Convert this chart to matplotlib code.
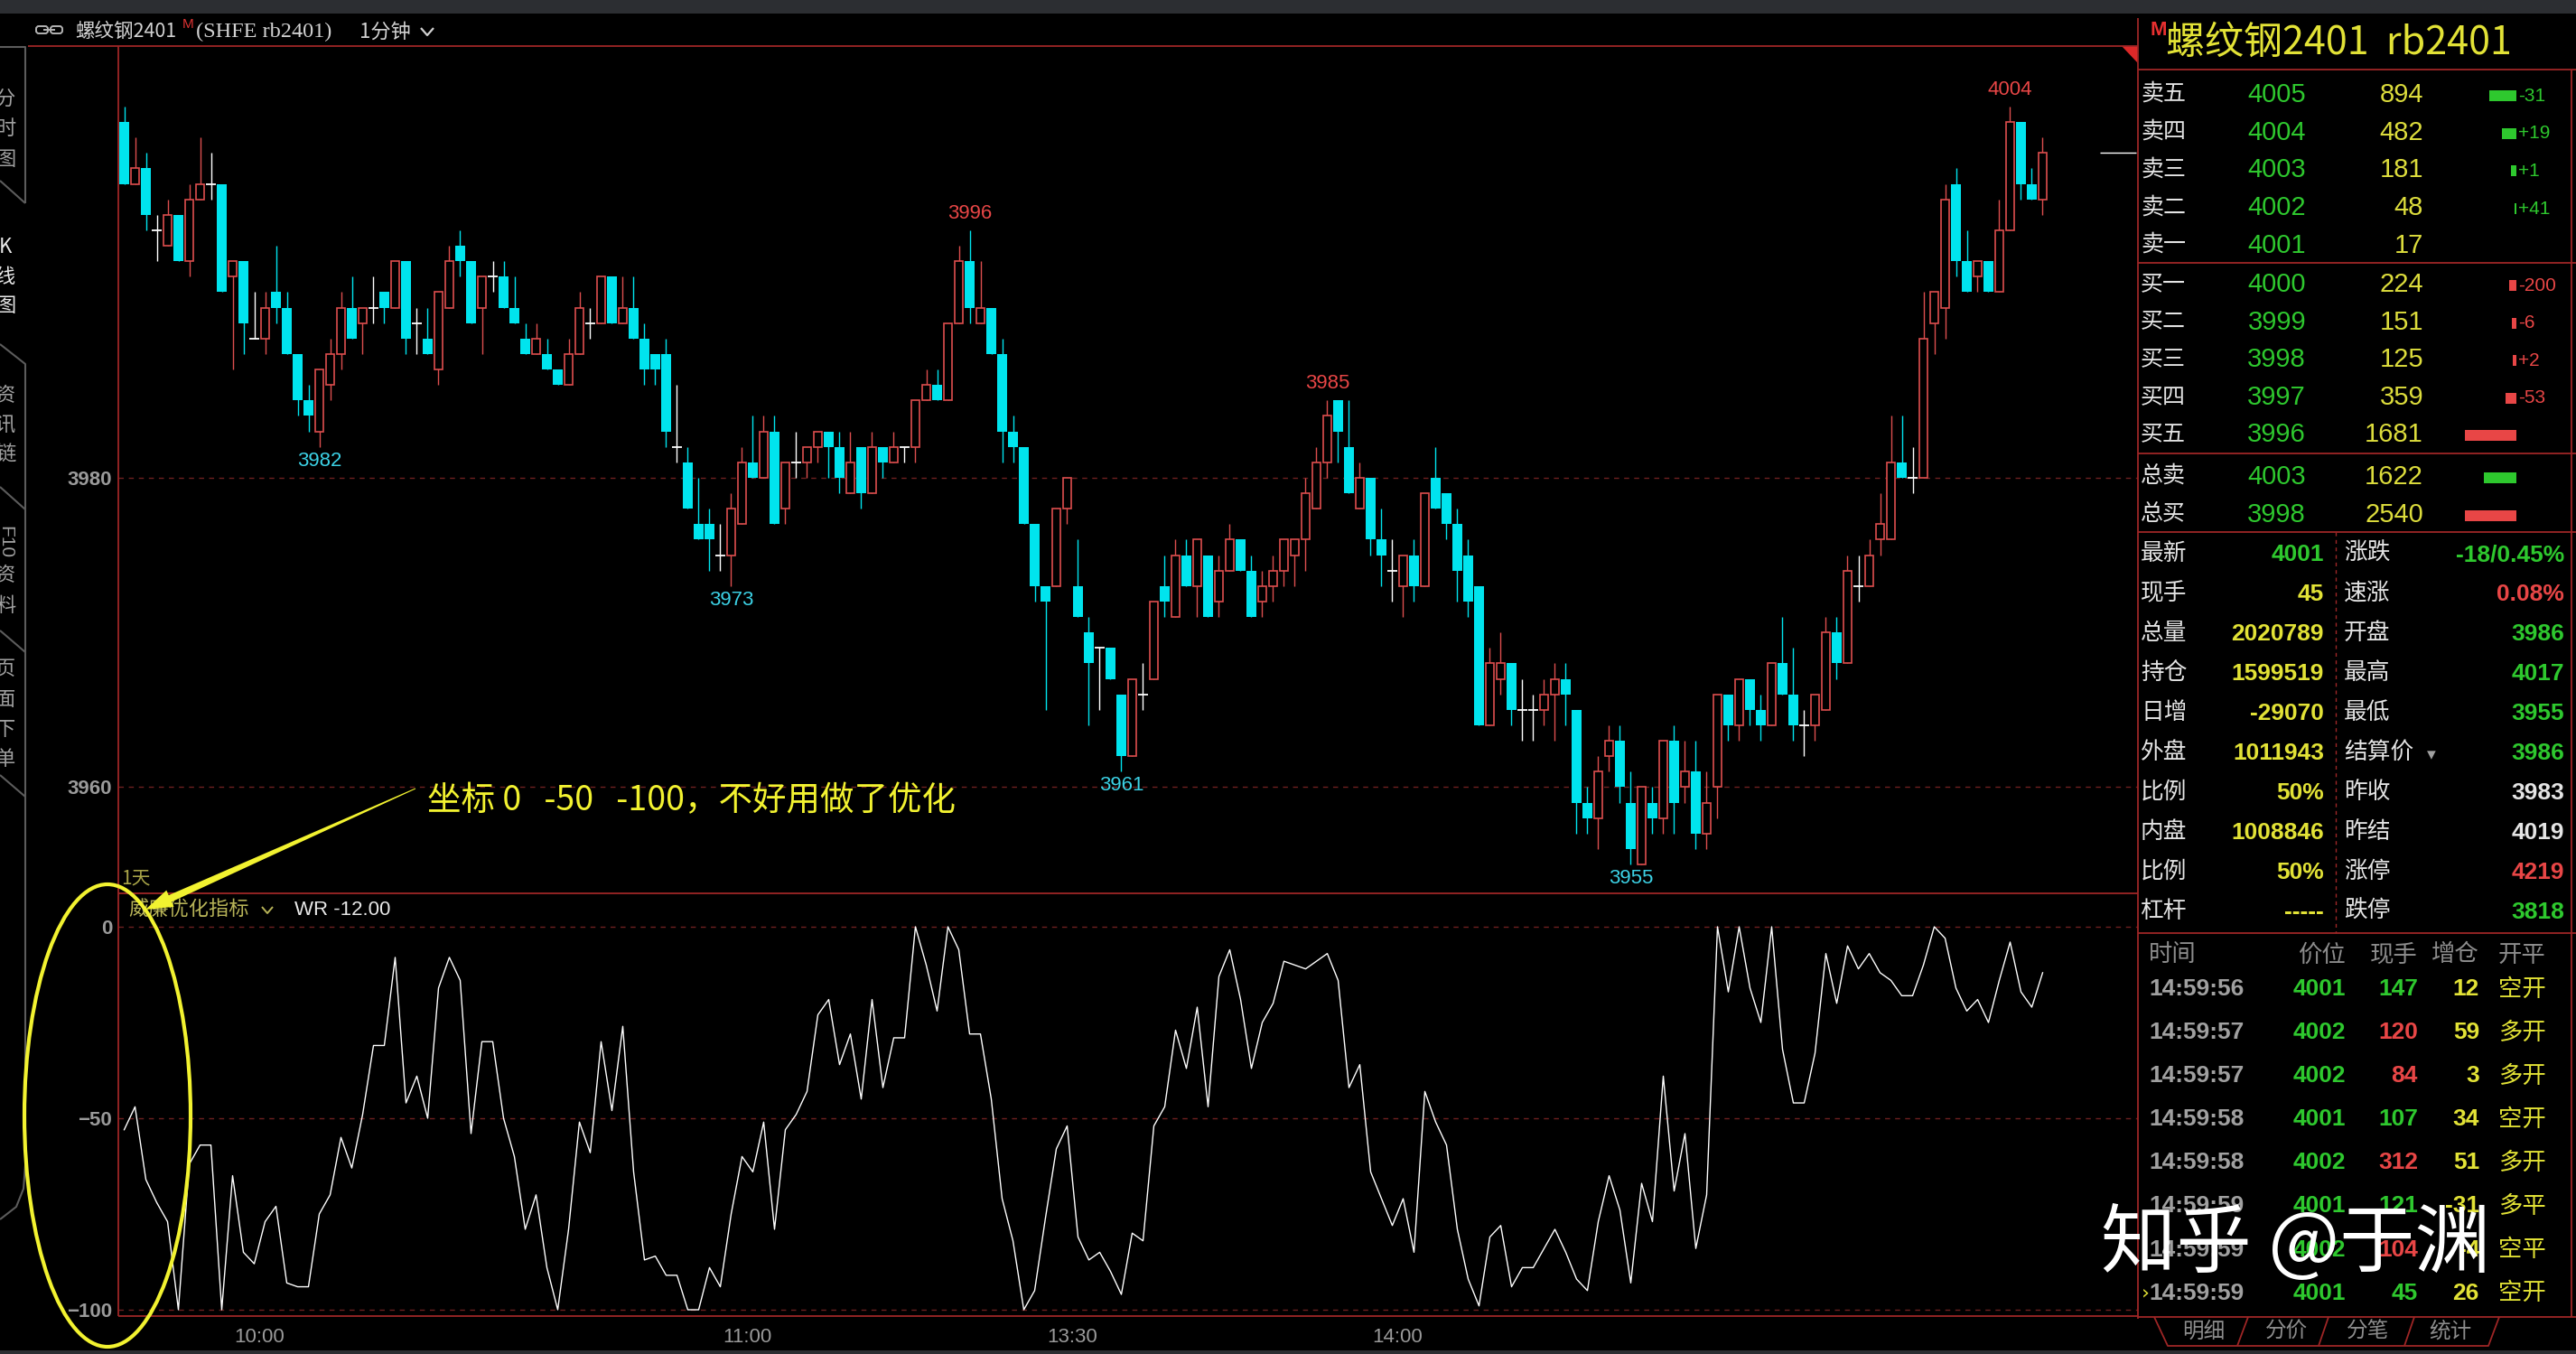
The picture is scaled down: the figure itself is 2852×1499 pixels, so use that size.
import numpy as np
import matplotlib
matplotlib.use('Agg')
import matplotlib.pyplot as plt
from matplotlib.patches import Rectangle, Polygon, Ellipse, FancyBboxPatch

plt.rcParams['font.family'] = ['Noto Sans CJK SC', 'DejaVu Sans']
NUM = ['Liberation Sans', 'DejaVu Sans']

W, H = 2852, 1499

# rb2401 1-minute bars, 9:48 -> 15:00
opens = [
    4003, 3999, 4000, 3996, 3995, 3997, 3994, 3998, 3999, 3999,
    3993, 3994, 3989, 3989, 3992, 3991, 3988, 3985, 3983, 3986,
    3988, 3991, 3990, 3991, 3992, 3991, 3994, 3990, 3989, 3987,
    3991, 3995, 3994, 3991, 3993, 3993, 3991, 3989, 3988, 3988,
    3987, 3986, 3988, 3990, 3990, 3993, 3990, 3991, 3989, 3988,
    3988, 3982, 3981, 3977, 3977, 3975, 3975, 3977, 3981, 3980,
    3983, 3978, 3981, 3981, 3982, 3983, 3982, 3979, 3982, 3979,
    3982, 3981, 3982, 3982, 3985, 3986, 3985, 3990, 3994, 3990,
    3991, 3988, 3983, 3982, 3977, 3973, 3973, 3978, 3973, 3970,
    3969, 3969, 3966, 3962, 3966, 3967, 3973, 3971, 3975, 3973,
    3975, 3972, 3974, 3976, 3974, 3972, 3973, 3974, 3975, 3976,
    3978, 3981, 3985, 3982, 3978, 3980, 3976, 3974, 3973, 3975,
    3973, 3980, 3979, 3977, 3975, 3973, 3964, 3967, 3968, 3965,
    3965, 3965, 3966, 3967, 3965, 3959, 3958, 3962, 3963, 3959,
    3955, 3959, 3958, 3963, 3960, 3961, 3957, 3960, 3966, 3964,
    3967, 3965, 3964, 3968, 3966, 3964, 3964, 3965, 3970, 3968,
    3973, 3973, 3976, 3976, 3981, 3980, 3980, 3990, 3991, 3999,
    3994, 3993, 3994, 3992, 3996, 4003, 3999, 3998,
]
highs = [
    4004, 4002, 4001, 3997, 3998, 3997, 3999, 4002, 4001, 3999,
    3994, 3994, 3992, 3992, 3995, 3992, 3988, 3986, 3987, 3989,
    3992, 3993, 3991, 3993, 3992, 3994, 3994, 3991, 3991, 3992,
    3995, 3996, 3994, 3993, 3994, 3994, 3993, 3990, 3990, 3989,
    3987, 3989, 3992, 3991, 3993, 3993, 3993, 3993, 3990, 3988,
    3989, 3986, 3982, 3980, 3978, 3977, 3979, 3982, 3984, 3984,
    3984, 3981, 3983, 3982, 3983, 3983, 3983, 3983, 3982, 3983,
    3982, 3983, 3982, 3985, 3987, 3987, 3990, 3995, 3996, 3994,
    3991, 3989, 3984, 3982, 3977, 3973, 3978, 3980, 3976, 3971,
    3969, 3969, 3966, 3967, 3968, 3972, 3975, 3976, 3976, 3976,
    3975, 3975, 3977, 3976, 3975, 3974, 3975, 3976, 3976, 3980,
    3982, 3985, 3985, 3985, 3981, 3980, 3978, 3976, 3975, 3976,
    3979, 3982, 3979, 3978, 3976, 3973, 3969, 3970, 3968, 3967,
    3966, 3967, 3968, 3968, 3965, 3960, 3962, 3964, 3964, 3961,
    3960, 3960, 3963, 3964, 3963, 3963, 3961, 3966, 3966, 3967,
    3967, 3966, 3968, 3971, 3969, 3965, 3966, 3971, 3971, 3975,
    3975, 3976, 3979, 3984, 3984, 3982, 3992, 3992, 3999, 4000,
    3996, 3994, 3994, 3998, 4004, 4003, 4000, 4002,
]
lows = [
    3999, 3999, 3996, 3994, 3995, 3994, 3993, 3998, 3998, 3992,
    3987, 3988, 3989, 3988, 3990, 3988, 3984, 3983, 3982, 3985,
    3987, 3989, 3988, 3990, 3990, 3991, 3988, 3988, 3988, 3986,
    3991, 3993, 3990, 3988, 3992, 3991, 3990, 3988, 3988, 3987,
    3986, 3986, 3988, 3989, 3990, 3990, 3990, 3989, 3986, 3986,
    3982, 3981, 3978, 3976, 3974, 3974, 3973, 3977, 3980, 3980,
    3977, 3977, 3980, 3980, 3981, 3980, 3979, 3979, 3978, 3979,
    3980, 3981, 3981, 3981, 3985, 3985, 3985, 3990, 3990, 3990,
    3988, 3981, 3981, 3977, 3972, 3965, 3973, 3977, 3971, 3964,
    3965, 3967, 3961, 3962, 3965, 3967, 3971, 3971, 3973, 3971,
    3971, 3971, 3974, 3974, 3971, 3971, 3972, 3973, 3973, 3974,
    3978, 3980, 3981, 3979, 3978, 3975, 3973, 3972, 3971, 3972,
    3973, 3978, 3976, 3972, 3971, 3964, 3964, 3966, 3964, 3963,
    3963, 3964, 3963, 3964, 3957, 3957, 3956, 3961, 3959, 3955,
    3955, 3957, 3957, 3957, 3959, 3956, 3956, 3958, 3963, 3963,
    3964, 3963, 3964, 3966, 3963, 3962, 3963, 3965, 3967, 3968,
    3972, 3973, 3975, 3976, 3980, 3979, 3980, 3988, 3989, 3993,
    3992, 3992, 3992, 3992, 3996, 3998, 3998, 3997,
]
closes = [
    3999, 4000, 3997, 3996, 3997, 3994, 3998, 3999, 3999, 3992,
    3994, 3990, 3989, 3991, 3991, 3988, 3985, 3984, 3987, 3988,
    3991, 3989, 3991, 3991, 3991, 3994, 3989, 3990, 3988, 3992,
    3994, 3994, 3990, 3993, 3993, 3991, 3990, 3988, 3989, 3987,
    3986, 3988, 3991, 3990, 3993, 3990, 3991, 3989, 3987, 3987,
    3983, 3982, 3978, 3976, 3976, 3975, 3978, 3981, 3980, 3983,
    3977, 3981, 3981, 3982, 3983, 3982, 3980, 3981, 3979, 3982,
    3981, 3982, 3982, 3985, 3986, 3985, 3990, 3994, 3991, 3991,
    3988, 3983, 3982, 3977, 3973, 3972, 3978, 3980, 3971, 3968,
    3969, 3967, 3962, 3967, 3966, 3972, 3972, 3975, 3973, 3976,
    3971, 3974, 3976, 3974, 3971, 3973, 3974, 3976, 3976, 3979,
    3981, 3984, 3983, 3979, 3980, 3976, 3975, 3974, 3975, 3973,
    3979, 3978, 3977, 3974, 3972, 3964, 3968, 3968, 3965, 3965,
    3965, 3966, 3967, 3966, 3959, 3958, 3961, 3963, 3960, 3956,
    3960, 3958, 3963, 3959, 3961, 3957, 3959, 3966, 3964, 3967,
    3965, 3964, 3968, 3966, 3964, 3964, 3966, 3970, 3968, 3974,
    3973, 3975, 3977, 3981, 3980, 3980, 3989, 3992, 3998, 3994,
    3992, 3994, 3992, 3996, 4003, 3999, 3998, 4001,
]
# 威廉优化指标 (WR)
wr = [
    -53, -47, -66, -72, -77, -100, -62, -57, -57, -100,
    -65, -85, -88, -77, -73, -93, -94, -94, -75, -70,
    -55, -63, -49, -31, -31, -8, -46, -39, -50, -16,
    -8, -14, -54, -30, -30, -50, -60, -79, -70, -89,
    -100, -79, -51, -59, -30, -48, -26, -64, -87, -86,
    -91, -91, -100, -100, -89, -94, -75, -60, -64, -51,
    -79, -53, -49, -43, -23, -19, -36, -28, -45, -19,
    -42, -29, -29, 0, -10, -22, 0, -6, -28, -28,
    -45, -71, -82, -100, -95, -76, -58, -52, -81, -87,
    -85, -90, -96, -80, -82, -52, -47, -27, -37, -21,
    -47, -13, -6, -19, -37, -25, -20, -9, -10, -11,
    -9, -7, -14, -42, -36, -64, -71, -78, -71, -85,
    -43, -51, -57, -79, -92, -99, -81, -78, -94, -89,
    -89, -84, -79, -85, -92, -95, -77, -65, -74, -93,
    -67, -77, -39, -69, -54, -84, -70, 0, -17, 0,
    -16, -25, 0, -32, -46, -46, -33, -7, -20, -5,
    -11, -7, -12, -14, -18, -18, -10, 0, -3, -16,
    -22, -19, -25, -14, -4, -17, -21, -12,
]
time_ticks = [12.5, 57.5, 87.5, 117.5]
time_labels = ['10:00', '11:00', '13:30', '14:00']
peak_idx = [78, 111, 174]
trough_idx = [18, 56, 92, 139]
price_ticks = [3960, 3980]
wr_ticks = [-100, -50, 0]

# order book
ask_labels = ['卖五', '卖四', '卖三', '卖二', '卖一']
ask_prices = [4005, 4004, 4003, 4002, 4001]
ask_vols = [894, 482, 181, 48, 17]
ask_chg = ['-31', '+19', '+1', '+41', '']
bid_labels = ['买一', '买二', '买三', '买四', '买五']
bid_prices = [4000, 3999, 3998, 3997, 3996]
bid_vols = [224, 151, 125, 359, 1681]
bid_chg = ['-200', '-6', '+2', '-53', '']
tot_labels = ['总卖', '总买']
tot_prices = [4003, 3998]
tot_vols = [1622, 2540]

left_labels = ['最新', '现手', '总量', '持仓', '日增', '外盘', '比例', '内盘', '比例', '杠杆']
left_vals = ['4001', '45', '2020789', '1599519', '-29070', '1011943', '50%', '1008846', '50%', '-----']
right_labels = ['涨跌', '速涨', '开盘', '最高', '最低', '结算价', '昨收', '昨结', '涨停', '跌停']
right_vals = ['-18/0.45%', '0.08%', '3986', '4017', '3955', '3986', '3983', '4019', '4219', '3818']

tr_time = ['14:59:56', '14:59:57', '14:59:57', '14:59:58', '14:59:58', '14:59:59', '14:59:59', '14:59:59']
tr_price = [4001, 4002, 4002, 4001, 4002, 4001, 4002, 4001]
tr_vol = [147, 120, 84, 107, 312, 121, 104, 45]
tr_oi = [12, 59, 3, 34, 51, -31, -4, 26]
tr_type = ['空开', '多开', '多开', '空开', '多开', '多平', '空平', '空开']

# colours
RED_LINE = '#9e2626'
GRID = '#6e2020'
UP = '#dc4e4e'
DOWN = '#00e4ee'
GRAY = '#9a9a9a'
GREEN = '#2ec82e'
YELLOW = '#e2e236'
RED = '#e84646'
WHITE = '#e4e4e4'
ANNO = '#f2f230'

fig = plt.figure(figsize=(W / 100, H / 100), dpi=100, facecolor='black')


def frac(x0, y0, x1, y1):
    return [x0 / W, 1 - y1 / H, (x1 - x0) / W, (y1 - y0) / H]


ax = fig.add_axes(frac(131, 51, 2367, 989))
ax2 = fig.add_axes(frac(131, 989, 2367, 1457))
for a in (ax, ax2):
    a.set_facecolor('black')
    for s in a.spines.values():
        s.set_visible(False)
    a.set_xlim((131 - 137.5) / 12, (2367 - 137.5) / 12)

ax.set_ylim(3980 - (989 - 529) / 17.125, 3980 + (529 - 51) / 17.125)
ax2.set_ylim(-(1457 - 1026) / 4.24, (1026 - 989) / 4.24)

O = np.array(opens)
Hh = np.array(highs)
L = np.array(lows)
C = np.array(closes)
x = np.arange(len(O))
up = C > O
dn = C < O
dj = C == O

ax.vlines(x[up], L[up], Hh[up], color=UP, lw=1.0, zorder=2)
ax.bar(x[up], (C - O)[up], bottom=O[up], width=0.8, facecolor='black',
       edgecolor=UP, lw=1.2, zorder=3)
ax.vlines(x[dn], L[dn], Hh[dn], color=DOWN, lw=1.0, zorder=2)
ax.bar(x[dn], (O - C)[dn], bottom=C[dn], width=0.86, color=DOWN, zorder=3)
ax.vlines(x[dj], L[dj], Hh[dj], color='white', lw=1.0, zorder=2)
ax.hlines(O[dj], x[dj] - 0.42, x[dj] + 0.42, color='white', lw=1.3, zorder=3)

for i in peak_idx:
    ax.annotate(str(Hh[i]), (x[i], Hh[i]), xytext=(0, 13.5), textcoords='offset points',
                ha='center', va='center', color=RED, fontsize=16, family=NUM)
for i in trough_idx:
    ax.annotate(str(L[i]), (x[i], L[i]), xytext=(0, -11), textcoords='offset points',
                ha='center', va='center', color='#3cd2e6', fontsize=16, family=NUM)

# last price marker
ax.hlines(C[-1], x[-1] + 5.3, x[-1] + 8.6, color='white', lw=1.0)

for v in price_ticks:
    ax.axhline(v, color=GRID, lw=1.0, ls=(0, (4, 4)), zorder=1)
ax.set_xticks([])
ax.set_yticks(price_ticks)
ax.tick_params(axis='y', length=0, pad=5, labelcolor=GRAY, labelsize=16)

ax2.plot(x, wr, color='white', lw=1.0)
for v in wr_ticks:
    ax2.axhline(v, color=GRID, lw=1.0, ls=(0, (4, 4)), zorder=1)
ax2.set_yticks(wr_ticks)
ax2.set_xticks(time_ticks, time_labels)
ax2.tick_params(axis='y', length=0, pad=5, labelcolor=GRAY, labelsize=16)
ax2.tick_params(axis='x', length=0, pad=9, labelcolor=GRAY, labelsize=16)
for a in (ax, ax2):
    for lbl in a.get_yticklabels():
        lbl.set_fontweight('bold')
        lbl.set_family(NUM)
for lbl in ax2.get_xticklabels():
    lbl.set_family(NUM)

# ---- overlay in pixel coordinates ----
ov = fig.add_axes([0, 0, 1, 1], zorder=10)
ov.set_xlim(0, W)
ov.set_ylim(H, 0)
ov.axis('off')
ov.patch.set_alpha(0)


def line(xs, ys, **kw):
    kw.setdefault('color', RED_LINE)
    kw.setdefault('lw', 1.3)
    ov.plot(xs, ys, solid_capstyle='butt', **kw)


# top / bottom bars
ov.add_patch(Rectangle((0, 0), W, 15, color='#2c2e32', lw=0))
ov.add_patch(Rectangle((0, 1495), W, 4, color='#2c2e32', lw=0))

# chart frame
line([31, 2367], [51, 51])
line([131, 131], [51, 1457])
line([131, 2367], [989, 989])
line([131, 2367], [1457, 1457])
line([2367, 2367], [20, 1460])
ov.add_patch(Polygon([(2349, 51), (2367, 51), (2367, 70)], color='#dc2828', lw=0))

# header
ov.add_patch(FancyBboxPatch((40, 29), 13, 8, boxstyle='round,pad=0,rounding_size=3',
                            fill=False, ec='#b4b4b4', lw=1.4))
ov.add_patch(FancyBboxPatch((56, 29), 13, 8, boxstyle='round,pad=0,rounding_size=3',
                            fill=False, ec='#b4b4b4', lw=1.4))
line([48, 61], [33, 33], color='#b4b4b4', lw=1.4)
ov.text(83, 35, '螺纹钢2401', color='#d2d2d2', fontsize=15.5, va='center', ha='left')
ov.text(202, 27, 'M', color='#dc3232', fontsize=11, va='center', ha='left', family=NUM)
ov.text(217, 35, '(SHFE rb2401)', color='#d2d2d2', fontsize=17.5, va='center', ha='left',
        family=['Liberation Serif', 'DejaVu Serif'])
ov.text(398, 35, '1分钟', color='#d2d2d2', fontsize=16, va='center', ha='left')
line([466, 473, 480], [31, 39, 31], color='#d2d2d2', lw=1.6)

# left sidebar
SB = '#5c5c5c'
line([0, 28, 28], [52, 52, 225], color=SB, lw=1.5)
line([0, 28], [200, 225], color=SB, lw=1.5)
line([0, 28, 28], [381, 403, 564], color=SB, lw=1.5)
line([0, 28, 28], [539, 564, 722], color=SB, lw=1.5)
line([0, 28, 28], [698, 722, 882], color=SB, lw=1.5)
line([0, 28, 28, 26, 18, 0], [858, 882, 1290, 1316, 1336, 1350], color=SB, lw=1.5)
side_tabs = [(['分', '时', '图'], [109, 142, 176], '#a0a0a0'),
             (['K', '线', '图'], [273, 306, 338], '#e8e8e8'),
             (['资', '讯', '链'], [437, 470, 503], '#a0a0a0'),
             (['资', '料'], [636, 670], '#a0a0a0'),
             (['页', '面', '下', '单'], [740, 774, 807, 840], '#a0a0a0')]
for chars, ys, col in side_tabs:
    for ch, yy in zip(chars, ys):
        ov.text(6, yy, ch, color=col, fontsize=16, ha='center', va='center')
ov.text(6, 600, 'F10', color='#a0a0a0', fontsize=15, ha='center', va='center',
        rotation=-90, family=NUM)

# indicator titles
ov.text(134, 972, '1天', color='#a8a448', fontsize=15, ha='left', va='center')
ov.text(142, 1007, '威廉优化指标', color='#b8b458', fontsize=16, ha='left', va='center')
line([290, 296, 302], [1004, 1011, 1004], color='#b8b458', lw=1.4)
ov.text(326, 1007, 'WR -12.00', color='#e8e8e8', fontsize=16, ha='left', va='center',
        family=NUM)

# annotation: text, arrow, ellipse
ov.text(473, 887, '坐标 0   -50   -100，不好用做了优化', color=ANNO, fontsize=27,
        ha='left', va='center')
tail = np.array([460.0, 873.0])
tip = np.array([161.0, 1007.0])
u = (tip - tail) / np.hypot(*(tip - tail))
nrm = np.array([u[1], -u[0]])
base = tip - u * 30
ov.add_patch(Polygon([tail + nrm * 0.5, base + nrm * 4, base + nrm * 10, tip,
                      base - nrm * 10, base - nrm * 4, tail - nrm * 0.5],
                     color=ANNO, lw=0, zorder=5))
ov.add_patch(Ellipse((119, 1235), 184, 512, fill=False, ec=ANNO, lw=3, zorder=5))

# ---- right panel ----
PX = 2367
ov.text(2380, 33, 'M', color='#e83030', fontsize=16, fontweight='bold', ha='left',
        va='center', family=NUM)
ov.text(2398, 48, '螺纹钢2401  rb2401', color=YELLOW, fontsize=31, ha='left', va='center')
for yy in (77, 291, 502, 589, 1033, 1458):
    line([PX, W], [yy, yy])
line([2847, 2847], [77, 1458])
line([2586, 2586], [589, 1033], ls=(0, (3, 3)), lw=1.0)


def book_rows(labels, prices, vols, chgs, ys, bar_col, vmax):
    for lab, p, v, c, yy in zip(labels, prices, vols, chgs, ys):
        ov.text(2370, yy, lab, color=WHITE, fontsize=18, ha='left', va='center')
        ov.text(2553, yy + 1, str(p), color=GREEN, fontsize=21, ha='right', va='center', family=NUM)
        ov.text(2683, yy + 1, str(v), color='#dcdc3c', fontsize=21, ha='right', va='center', family=NUM)
        bw = v / vmax * 57
        if bw >= 1:
            ov.add_patch(Rectangle((2786 - bw, yy - 4), bw, 12, color=bar_col, lw=0))
        if c:
            ov.text(2788, yy + 2, c, color=bar_col, fontsize=15, ha='left', va='center', family=NUM)


vmax = max(ask_vols + bid_vols)
book_rows(ask_labels, ask_prices, ask_vols, ask_chg,
          [104 + 41.7 * k for k in range(5)], GREEN, vmax)
book_rows(bid_labels, bid_prices, bid_vols, bid_chg,
          [314 + 41.6 * k for k in range(5)], RED, vmax)
tot_cols = [GREEN, RED]
for k in range(2):
    book_rows(tot_labels[k:k + 1], tot_prices[k:k + 1], tot_vols[k:k + 1], [''],
              [527 + 42 * k], tot_cols[k], max(tot_vols))

left_cols = [GREEN] + [YELLOW] * 9
right_cols = [GREEN, RED, GREEN, GREEN, GREEN, GREEN, WHITE, WHITE, RED, GREEN]
for k in range(10):
    yy = 613 + 44 * k
    ov.text(2370, yy, left_labels[k], color=WHITE, fontsize=18.5, ha='left', va='center')
    ov.text(2573, yy + 1, left_vals[k], color=left_cols[k], fontsize=19, fontweight='bold',
            ha='right', va='center', family=NUM)
    ov.text(2595, yy, right_labels[k], color=WHITE, fontsize=18.5, ha='left', va='center')
    ov.text(2839, yy + 1, right_vals[k], color=right_cols[k], fontsize=19, fontweight='bold',
            ha='right', va='center', family=NUM)
ov.text(2692, 836, '▾', color='#a0a0a0', fontsize=14, ha='center', va='center',
        family=['DejaVu Sans'])

# trade ticks
TG = '#8c8c8c'
ov.text(2379, 1057, '时间', color=TG, fontsize=19, ha='left', va='center')
ov.text(2597, 1057, '价位', color=TG, fontsize=19, ha='right', va='center')
ov.text(2677, 1057, '现手', color=TG, fontsize=19, ha='right', va='center')
ov.text(2745, 1057, '增仓', color=TG, fontsize=19, ha='right', va='center')
ov.text(2766, 1057, '开平', color=TG, fontsize=19, ha='left', va='center')
top_px = max(tr_price)
for k in range(len(tr_time)):
    yy = 1095 + 48.1 * k
    ov.text(2379, yy, tr_time[k], color='#a0a0a0', fontsize=19, fontweight='bold',
            ha='left', va='center', family=NUM)
    ov.text(2597, yy, str(tr_price[k]), color=GREEN, fontsize=19, fontweight='bold',
            ha='right', va='center', family=NUM)
    ov.text(2677, yy, str(tr_vol[k]), color=RED if tr_price[k] == top_px else GREEN,
            fontsize=19, fontweight='bold', ha='right', va='center', family=NUM)
    ov.text(2745, yy, str(tr_oi[k]), color=YELLOW, fontsize=19, fontweight='bold',
            ha='right', va='center', family=NUM)
    ov.text(2766, yy, tr_type[k], color=YELLOW, fontsize=19, ha='left', va='center')
ov.text(2371, 1095 + 48.1 * 7, '›', color=YELLOW, fontsize=16, ha='left', va='center',
        family=['DejaVu Sans'])

# bottom tabs
line([2385, 2400, 2755, 2767], [1458, 1490, 1490, 1458])
for xs in ([2477, 2489], [2567, 2578], [2662, 2673]):
    line(xs, [1490, 1458])
for lab, cx in zip(['明细', '分价', '分笔', '统计'], [2440, 2532, 2622, 2713]):
    ov.text(cx, 1474, lab, color=TG, fontsize=17, ha='center', va='center')

# watermark
ov.text(2326, 1378, '知乎 @于渊', color='white', fontsize=60, ha='left', va='center')

fig.savefig('out.png', dpi=100, facecolor='black')
